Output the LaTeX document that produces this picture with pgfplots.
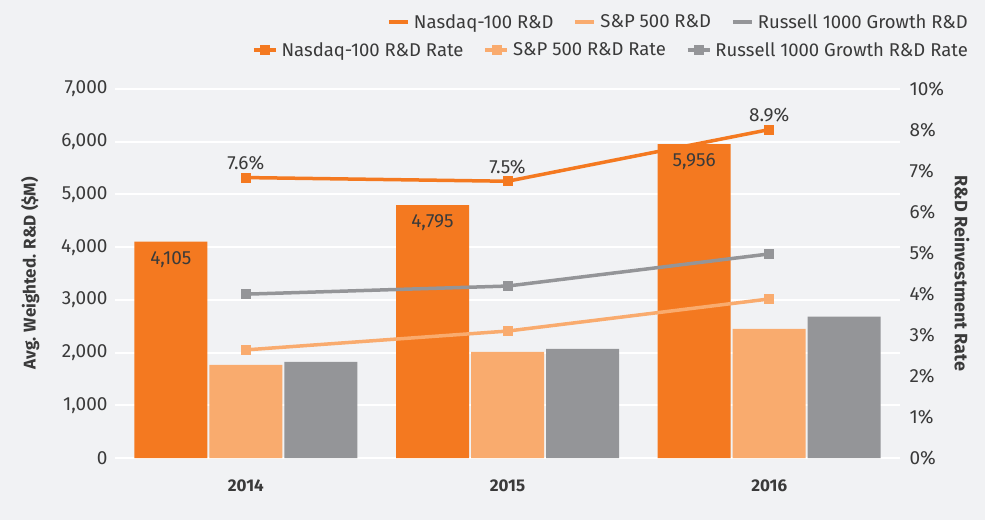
\documentclass[border=0pt]{standalone}
\usepackage{pgfplots}
\pgfplotsset{compat=1.18}
\usepackage{fontspec}
\setmainfont{Fira Sans}
\definecolor{bg}{HTML}{F1F2F4}
\definecolor{nas}{HTML}{F47920}
\definecolor{sp}{HTML}{F9AB6E}
\definecolor{rus}{HTML}{949598}
\definecolor{txt}{HTML}{3A3A3A}
\begin{document}
\begin{tikzpicture}
\fill[bg] (0,0) rectangle (985pt,520pt);
\begin{axis}[
 at={(115pt,62pt)}, anchor=south west, width=785pt, height=369pt, scale only axis,
 xmin=-0.5,xmax=2.5,ymin=0,ymax=7000,
 xtick={0,1,2}, xticklabels={2014,2015,2016},
 ytick={0,1000,...,7000},
 ymajorgrids, grid style={white,line width=2pt},
 axis line style={draw=none}, major tick length=0pt,
 /pgf/number format/assume math mode=true,
 /pgf/number format/1000 sep={,},
 tick label style={text=txt},
 yticklabel style={font=\fontsize{19}{22}\selectfont, xshift=-4pt},
 xticklabel style={font=\fontsize{17}{20}\selectfont\bfseries, yshift=-18pt},
 ylabel={Avg. Weighted. R\&D (\$M)},
 every axis y label/.style={at={(axis description cs:-0.108,0.5)}, rotate=90, anchor=center, font=\fontsize{17}{20}\selectfont\bfseries, text=txt},
 legend columns=3,
 legend style={at={(1.0892,1.1816)}, anchor=east, draw=none, fill=none, inner sep=0pt, font=\fontsize{18.5}{21}\selectfont, text=txt,
   /tikz/every even column/.append style={column sep=18pt},
   /tikz/every odd column/.append style={column sep=2pt}},
]
\addplot[ybar, bar width=73pt, bar shift=-75pt, fill=nas, draw=none,
  legend image code/.code={\draw[nas, line width=4pt] (0pt,0pt) -- (19pt,0pt);},
  nodes near coords, nodes near coords style={anchor=north, xshift=-75pt, yshift=-6pt, font=\fontsize{19}{22}\selectfont, text=txt}]
  coordinates {(0,4105) (1,4795) (2,5956)};
\addplot[ybar, bar width=73pt, bar shift=0pt, fill=sp, draw=none,
  legend image code/.code={\draw[sp, line width=4pt] (0pt,0pt) -- (19pt,0pt);}]
  coordinates {(0,1765) (1,2015) (2,2450)};
\addplot[ybar, bar width=73pt, bar shift=75pt, fill=rus, draw=none,
  legend image code/.code={\draw[rus, line width=4pt] (0pt,0pt) -- (19pt,0pt);}]
  coordinates {(0,1825) (1,2070) (2,2680)};
\legend{Nasdaq-100 R\&D, S\&P 500 R\&D, Russell 1000 Growth R\&D}
\end{axis}
\begin{axis}[
 at={(115pt,62pt)}, anchor=south west, width=785pt, height=369pt, scale only axis,
 xmin=-0.5,xmax=2.5,ymin=0,ymax=10,
 hide x axis,
 axis line style={draw=none}, major tick length=0pt,
 yticklabel pos=right,
 ytick={0,1.1111,2.2222,3.3333,4.4444,5.5556,6.6667,7.7778,8.8889,10},
 yticklabels={0\%,1\%,2\%,3\%,4\%,5\%,6\%,7\%,8\%,10\%},
 yticklabel style={font=\fontsize{19}{22}\selectfont, text=txt, xshift=6pt},
 ylabel={R\&D Reinvestment Rate},
 every axis y label/.style={at={(axis description cs:1.079,0.5)}, rotate=-90, anchor=center, font=\fontsize{18}{20}\selectfont\bfseries, text=txt},
 legend columns=3,
 legend image code/.code={\draw[mark repeat=2,mark phase=2] plot coordinates {(0pt,0pt) (11pt,0pt) (22pt,0pt)};},
 legend style={at={(1.0892,1.1057)}, anchor=east, draw=none, fill=none, inner sep=0pt, font=\fontsize{18.5}{21}\selectfont, text=txt,
   /tikz/every even column/.append style={column sep=18pt},
   /tikz/every odd column/.append style={column sep=2pt}},
]
\addplot[nas, line width=3.5pt, mark=square*, mark size=4.5pt, mark options={solid, line width=0.5pt},
  nodes near coords, point meta=explicit symbolic,
  nodes near coords style={anchor=south, yshift=4pt, font=\fontsize{19}{22}\selectfont, text=txt}]
  coordinates {(0,7.6)[7.6\%] (1,7.5)[7.5\%] (2,8.9)[8.9\%]};
\addplot[sp, line width=3.5pt, mark=square*, mark size=4.5pt, mark options={solid, line width=0.5pt}]
  coordinates {(0,2.93) (1,3.44) (2,4.31)};
\addplot[rus, line width=3.5pt, mark=square*, mark size=4.5pt, mark options={solid, line width=0.5pt}]
  coordinates {(0,4.44) (1,4.66) (2,5.53)};
\legend{Nasdaq-100 R\&D Rate, S\&P 500 R\&D Rate, Russell 1000 Growth R\&D Rate}
\end{axis}
\end{tikzpicture}
\end{document}
